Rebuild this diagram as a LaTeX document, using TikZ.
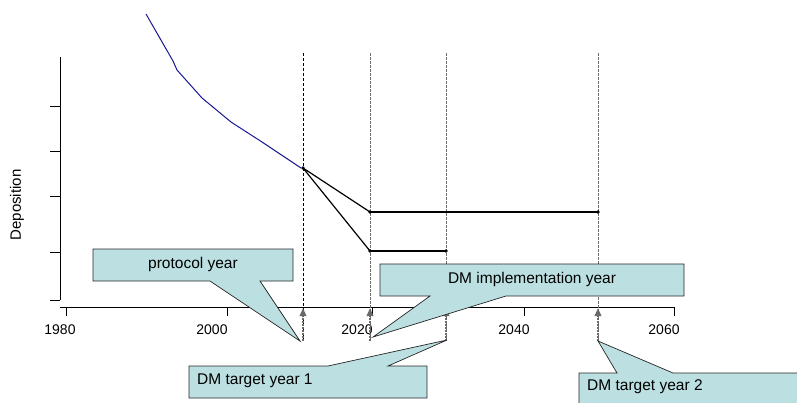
\documentclass[tikz,border=0pt]{standalone}
\usepackage{fontspec}
\setmainfont{Liberation Sans}
\usetikzlibrary{arrows.meta}
\definecolor{callfill}{RGB}{188,224,226}
\definecolor{curveblue}{RGB}{25,25,150}
\definecolor{dashgrey}{RGB}{110,110,110}
\definecolor{arrowgrey}{RGB}{105,105,105}
\begin{document}
\begin{tikzpicture}[x=1pt,y=-1pt,
  axisline/.style={line width=0.8pt,black},
  ticklabel/.style={font=\fontsize{14}{16}\selectfont,inner sep=0pt},
  calltext/.style={font=\fontsize{15.5}{18}\selectfont,inner sep=0pt},
  callout/.style={fill=callfill,draw=black!85,line width=0.7pt,line join=miter},
  vblack/.style={black,line width=0.8pt,dash pattern=on 3pt off 2pt},
  vgrey/.style={dashgrey,line width=1pt,dash pattern=on 2.5pt off 1.5pt},
  uparrow/.style={arrowgrey,line width=1.8pt,dash pattern=on 2pt off 1pt,-{Triangle[length=8pt,width=6.5pt]}},
  thinseg/.style={black,line width=1.2pt},
  thickseg/.style={black,line width=2pt},
  ptdot/.style={circle,fill=black,inner sep=0pt,minimum size=3.6pt}
]
\useasboundingbox (0,0) rectangle (797,402);
\clip (0,0) rectangle (797,402);

% axes
\coordinate (ytop) at (60,57);
\coordinate (ybot) at (60,300);
\draw[axisline] (ytop) -- (ybot);
\foreach \yy in {106,151,196,252,300} \draw[axisline] (50,\yy) -- (60,\yy);
\coordinate (xl) at (60,307);
\coordinate (xr) at (674,307);
\draw[axisline] (xl) -- (xr);
\foreach \xx in {66,227,372,524,674} \draw[axisline] (\xx,307) -- (\xx,316);
\node[ticklabel] (t1980) at (60,330) {1980};
\node[ticklabel] (t2000) at (212,330) {2000};
\node[ticklabel] (t2020) at (357,330) {2020};
\node[ticklabel] (t2040) at (514,330) {2040};
\node[ticklabel] (t2060) at (664,330) {2060};
\node[rotate=90,font=\fontsize{15}{17}\selectfont,inner sep=0pt] (ylab) at (17,205) {Deposition};

% vertical dashed lines
\coordinate (v1t) at (303,53); \coordinate (v1b) at (303,341);
\coordinate (v2t) at (370,53); \coordinate (v2b) at (370,341);
\coordinate (v3t) at (446,53); \coordinate (v3b) at (446,341);
\coordinate (v4t) at (598,53); \coordinate (v4b) at (598,341);
\draw[vblack] (v1t) -- (v1b);
\draw[vgrey] (v2t) -- (v2b);
\draw[vgrey] (v3t) -- (v3b);
\draw[vgrey] (v4t) -- (v4b);

% arrows
\coordinate (a1) at (303,308); \coordinate (a2) at (370,308);
\coordinate (a3) at (446,308); \coordinate (a4) at (598,308);
\draw[uparrow] (v1b) -- (a1);
\draw[uparrow] (v2b) -- (a2);
\draw[uparrow] (v3b) -- (a3);
\draw[uparrow] (v4b) -- (a4);

% blue history curve
\draw[curveblue,line width=1pt,line join=round]
  (146,14) -- (173,61) -- (177,70) -- (202,98) -- (231,122) -- (262,142) -- (301,168);

% scenario lines
\node[ptdot] (p0) at (303,168) {};
\node[ptdot] (p1) at (370,212) {};
\node[ptdot] (p2) at (598,212) {};
\node[ptdot] (p3) at (370,251) {};
\node[ptdot] (p4) at (446,251) {};
\draw[thinseg] (p0.center) -- (p1.center);
\draw[thinseg] (p0.center) -- (p3.center);
\draw[thickseg] (p1.center) -- (p2.center);
\draw[thickseg] (p3.center) -- (p4.center);

% callouts
\draw[callout] (93,249) -- (293,249) -- (293,281) -- (260,281) -- (300,341) -- (210,281) -- (93,281) -- cycle;
\node[calltext] (protocol) at (193,264) {protocol year};

\draw[callout] (380,264) -- (684,264) -- (684,296) -- (506,296) -- (373,337) -- (430,296) -- (380,296) -- cycle;
\node[calltext] (impl) at (532,279.5) {DM implementation year};

\draw[callout] (189,366) -- (328,366) -- (447,340) -- (388,366) -- (427,366) -- (427,398) -- (189,398) -- cycle;
\node[calltext,anchor=west] (target1) at (197,381) {DM target year 1};

\draw[callout] (579,373) -- (617,373) -- (598,341) -- (673,373) -- (820,373) -- (820,420) -- (579,420) -- cycle;
\node[calltext,anchor=west] (target2) at (587,387) {DM target year 2};
\end{tikzpicture}
\end{document}
